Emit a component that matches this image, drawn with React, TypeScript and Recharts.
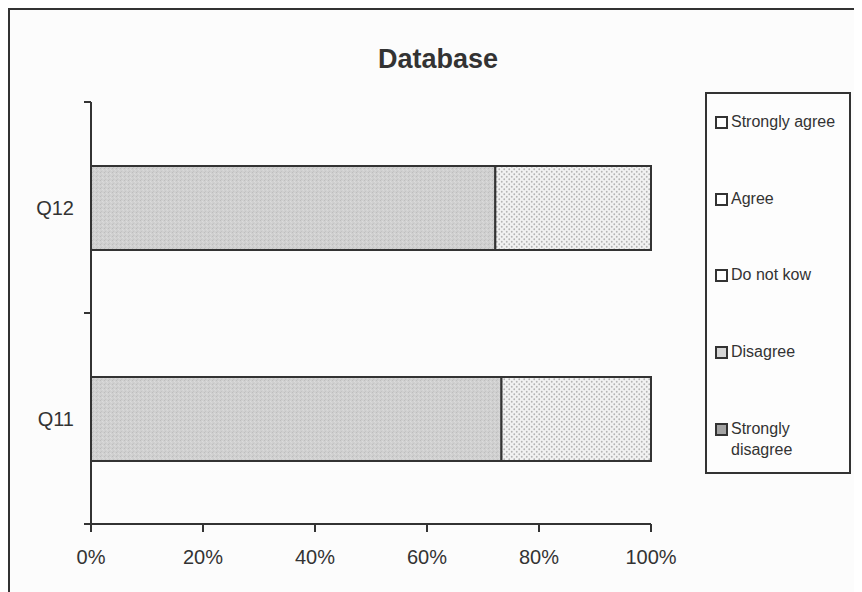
import { Bar, BarChart, XAxis, YAxis } from "recharts";

const questions = ["Q12", "Q11"];
const stronglyAgree = [0, 0];
const agree = [0, 0];
const doNotKnow = [0, 0];
const disagree = [27.8, 26.7];
const stronglyDisagree = [72.2, 73.3];
const percentTicks = [0, 20, 40, 60, 80, 100];

// legend reads top to bottom, bars stack left to right in the reverse order
const legendLabels = ["Strongly agree", "Agree", "Do not kow", "Disagree", "Strongly\ndisagree"];

const rows = questions.map((q, i) => ({
  question: q,
  stronglyDisagree: stronglyDisagree[i],
  disagree: disagree[i],
  doNotKnow: doNotKnow[i],
  agree: agree[i],
  stronglyAgree: stronglyAgree[i],
}));

const series = [
  { key: "stronglyDisagree", fill: "url(#sdTexture)", swatch: "#a3a3a3" },
  { key: "disagree", fill: "url(#dTexture)", swatch: "#d6d6d6" },
  { key: "doNotKnow", fill: "#ffffff", swatch: "#ffffff" },
  { key: "agree", fill: "#ffffff", swatch: "#ffffff" },
  { key: "stronglyAgree", fill: "#ffffff", swatch: "#ffffff" },
];

const INK = "#333";
const FONT = "'Liberation Sans', Arial, sans-serif";
const CHART_W = 700;
const CHART_H = 584;
const MARGIN = { top: 94, right: 57, bottom: 28, left: 0 };
const X_AXIS_H = 40;
const Y_AXIS_W = 83;
const TICK_SIZE = 7;
const TICK_MARGIN = 10;
const PLOT_H = CHART_H - MARGIN.top - MARGIN.bottom - X_AXIS_H;

function QuestionTick(props: any) {
  const { x, y, payload } = props;
  const half = payload?.offset || PLOT_H / questions.length / 2;
  const axisX = x + TICK_SIZE + TICK_MARGIN;
  return (
    <g>
      <line x1={axisX - TICK_SIZE} x2={axisX} y1={y - half} y2={y - half} stroke={INK} strokeWidth={2} />
      <line x1={axisX - TICK_SIZE} x2={axisX} y1={y + half} y2={y + half} stroke={INK} strokeWidth={2} />
      <text x={x} y={y} dy="0.35em" textAnchor="end" fill={INK} fontSize={20} fontFamily={FONT}>
        {payload.value}
      </text>
    </g>
  );
}

function LegendBox() {
  return (
    <div
      style={{
        position: "absolute",
        left: 697,
        top: 84,
        width: 146,
        height: 382,
        boxSizing: "border-box",
        border: `2px solid ${INK}`,
        background: "#fdfdfd",
        fontFamily: FONT,
        fontSize: 16,
        color: INK,
      }}
    >
      {legendLabels.map((label, i) => {
        const s = series[series.length - 1 - i];
        return (
          <div
            key={label}
            style={{ position: "absolute", left: 8, top: 18 + i * 76.7, display: "flex", alignItems: "flex-start" }}
          >
            <span
              style={{
                width: 9,
                height: 9,
                marginTop: 4,
                marginRight: 3,
                border: `2px solid ${INK}`,
                background: s.swatch,
                flex: "none",
              }}
            />
            <span style={{ whiteSpace: "pre", lineHeight: "21px", marginTop: -1 }}>{label}</span>
          </div>
        );
      })}
    </div>
  );
}

export default function App() {
  return (
    <div style={{ position: "relative", width: 854, height: 584, overflow: "hidden", background: "#fcfcfc" }}>
      <div
        style={{
          position: "absolute",
          left: 0,
          top: 0,
          width: 860,
          height: 600,
          borderTop: `2px solid ${INK}`,
          borderLeft: `2px solid ${INK}`,
        }}
      />
      <div
        style={{
          position: "absolute",
          left: 0,
          top: 36,
          width: 860,
          textAlign: "center",
          fontFamily: FONT,
          fontWeight: "bold",
          fontSize: 27,
          color: INK,
        }}
      >
        Database
      </div>
      <div style={{ position: "absolute", left: 0, top: 0 }}>
        <BarChart
          width={CHART_W}
          height={CHART_H}
          data={rows}
          layout="vertical"
          stackOffset="expand"
          barSize={84}
          margin={MARGIN}
        >
          <defs>
            <pattern id="sdTexture" width={4} height={4} patternUnits="userSpaceOnUse">
              <rect width={4} height={4} fill="#d0d0d0" />
              <rect x={0} y={0} width={1} height={1} fill="#bdbdbd" />
              <rect x={2} y={1} width={1} height={1} fill="#dcdcdc" />
              <rect x={1} y={3} width={1} height={1} fill="#c4c4c4" />
              <rect x={3} y={2} width={1} height={1} fill="#d9d9d9" />
            </pattern>
            <pattern id="dTexture" width={5} height={5} patternUnits="userSpaceOnUse">
              <rect width={5} height={5} fill="#f2f2f2" />
              <circle cx={1.25} cy={1.25} r={0.9} fill="#b4b4b4" />
              <circle cx={3.75} cy={3.75} r={0.9} fill="#b4b4b4" />
            </pattern>
          </defs>
          <XAxis
            type="number"
            domain={[0, 1]}
            ticks={percentTicks.map((t) => t / 100)}
            tickFormatter={(v: number) => `${Math.round(v * 100)}%`}
            height={X_AXIS_H}
            axisLine={{ stroke: INK, strokeWidth: 2 }}
            tickLine={{ stroke: INK, strokeWidth: 2 }}
            tickSize={8}
            tickMargin={18}
            tick={{ fill: INK, fontSize: 20, fontFamily: FONT }}
          />
          <YAxis
            type="category"
            dataKey="question"
            width={Y_AXIS_W}
            axisLine={{ stroke: INK, strokeWidth: 2 }}
            tickLine={false}
            tickSize={TICK_SIZE}
            tickMargin={TICK_MARGIN}
            tick={<QuestionTick />}
          />
          {series.map((s) => (
            <Bar
              key={s.key}
              dataKey={s.key}
              stackId="answers"
              fill={s.fill}
              stroke={INK}
              strokeWidth={2}
              isAnimationActive={false}
            />
          ))}
        </BarChart>
      </div>
      <LegendBox />
    </div>
  );
}
